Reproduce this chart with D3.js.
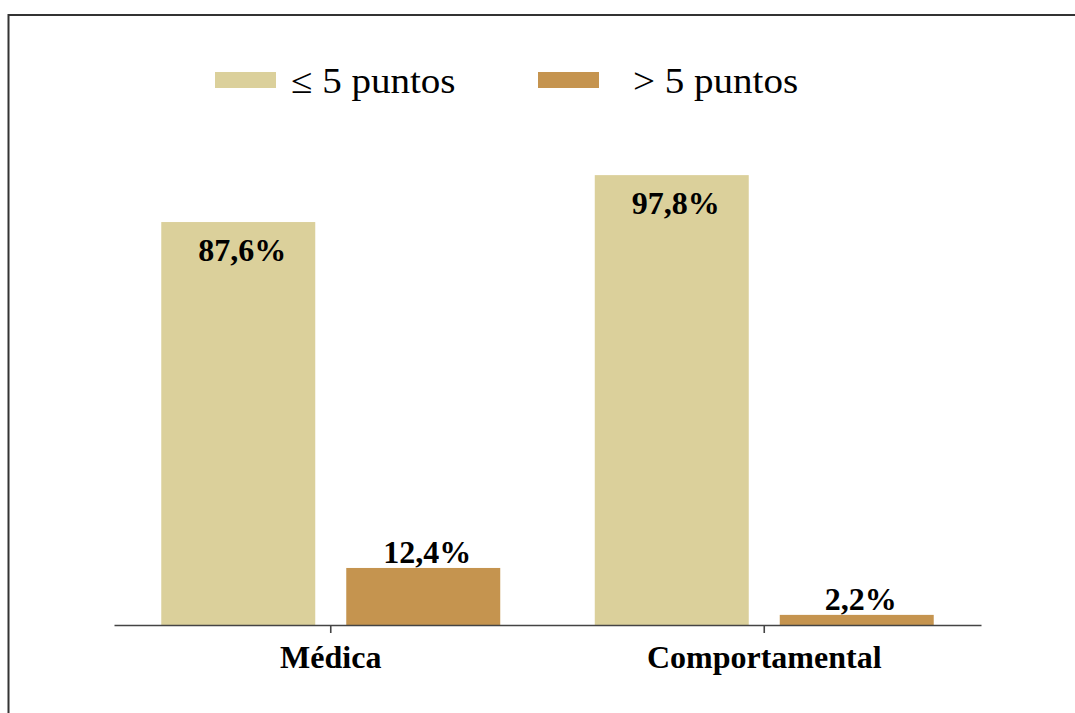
<!DOCTYPE html>
<html>
<head>
<meta charset="utf-8">
<script src="https://cdn.jsdelivr.net/npm/d3@7"></script>
<style>
  html, body { margin: 0; padding: 0; background: #fff; }
  svg { display: block; }
</style>
</head>
<body>
<svg id="chart" width="1075" height="713"></svg>
<script>
// Categories, series and values
const categories = ["Médica", "Comportamental"];
const seriesNames = ["≤ 5 puntos", "> 5 puntos"];
const lowScores = [87.6, 97.8];   // ≤ 5 puntos (%)
const highScores = [12.4, 2.2];   // > 5 puntos (%)
const valueLabels = [["87,6%", "12,4%"], ["97,8%", "2,2%"]];
const seriesColors = ["#dbd09b", "#c5944f"];

const svg = d3.select("#chart");
const W = 1075, H = 713;
const fontFamily = "'Liberation Serif', 'Times New Roman', serif";

// Outer frame (only top and left edges fall inside the canvas)
svg.append("rect")
  .attr("x", 8.5).attr("y", 15)
  .attr("width", W + 20).attr("height", H + 20)
  .attr("fill", "none")
  .attr("stroke", "#333")
  .attr("stroke-width", 2);

// Scales
const x0 = d3.scaleBand().domain(categories).range([114, 981]).padding(0);
const x1 = d3.scaleBand().domain(seriesNames).range([0, x0.bandwidth()])
  .paddingInner(0.1676).paddingOuter(0.2555);
const y = d3.scaleLinear().domain([0, 100]).range([625, 165]);
const color = d3.scaleOrdinal().domain(seriesNames).range(seriesColors);

const rows = categories.map((c, i) => ({
  category: c,
  values: [
    { series: seriesNames[0], value: lowScores[i], label: valueLabels[i][0] },
    { series: seriesNames[1], value: highScores[i], label: valueLabels[i][1] }
  ]
}));

// Bars
const groups = svg.append("g").selectAll("g")
  .data(rows).join("g")
  .attr("transform", d => `translate(${x0(d.category)},0)`);

groups.selectAll("rect")
  .data(d => d.values).join("rect")
  .attr("x", d => x1(d.series))
  .attr("y", d => y(d.value))
  .attr("width", x1.bandwidth())
  .attr("height", d => y(0) - y(d.value))
  .attr("fill", d => color(d.series));

// Value labels: inside tall bars, above short ones
groups.selectAll("text")
  .data(d => d.values).join("text")
  .attr("x", d => x1(d.series) + x1.bandwidth() / 2 + 4)
  .attr("y", d => d.value > 50 ? y(d.value) + 39 : y(d.value) - 5)
  .attr("text-anchor", "middle")
  .attr("font-family", fontFamily)
  .attr("font-weight", "bold")
  .attr("font-size", 32)
  .attr("fill", "#000")
  .text(d => d.label);

// X axis
const axis = svg.append("g")
  .attr("transform", `translate(0,${y(0)})`)
  .call(d3.axisBottom(x0).tickSizeInner(8).tickSizeOuter(0));
axis.select(".domain").attr("stroke", "#444").attr("stroke-width", 1.6);
axis.selectAll(".tick line").attr("stroke", "#444").attr("stroke-width", 1.6);
axis.selectAll(".tick text")
  .attr("y", 43)
  .attr("dy", 0)
  .attr("font-family", fontFamily)
  .attr("font-weight", "bold")
  .attr("font-size", 32)
  .attr("fill", "#000");

// Legend
const legendItems = [
  { name: seriesNames[0], swatchX: 215, textX: 291 },
  { name: seriesNames[1], swatchX: 538, textX: 633 }
];
const legend = svg.append("g").selectAll("g")
  .data(legendItems).join("g");
legend.append("rect")
  .attr("x", d => d.swatchX).attr("y", 72)
  .attr("width", 61).attr("height", 16)
  .attr("fill", d => color(d.name));
legend.append("text")
  .attr("transform", d => `translate(${d.textX},93) scale(1.1,1)`)
  .attr("font-family", fontFamily)
  .attr("font-size", 35.5)
  .attr("fill", "#000")
  .text(d => d.name);
</script>
</body>
</html>
